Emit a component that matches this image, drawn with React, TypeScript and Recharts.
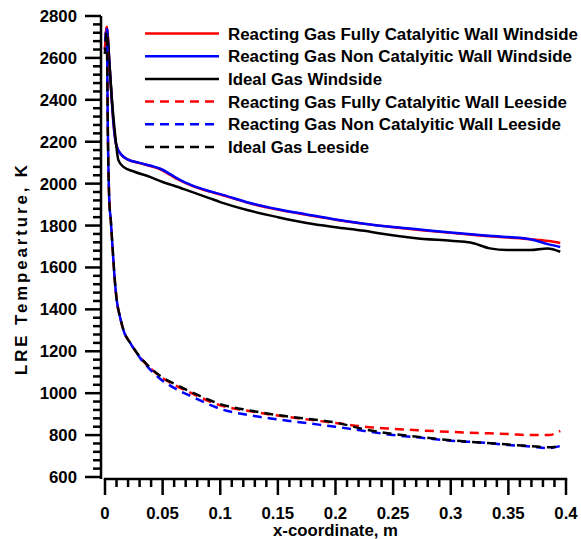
import { Legend, Line, LineChart, XAxis, YAxis } from "recharts";

const FONT = '"Liberation Sans", Arial, Helvetica, sans-serif';
const FONT_SIZE = 16.8;

// frame
const CHART_W = 581;
const CHART_H = 539;
const MARGIN = { top: 16, right: 15, bottom: 0, left: 0 };
const Y_AXIS_W = 101;
const X_AXIS_H = 60;
const X_PAD = { left: 4, right: 0 };
const Y_PAD = { top: 0, bottom: 2 };
const X_LINE_LEN = CHART_W - MARGIN.right - Y_AXIS_W - X_PAD.left - X_PAD.right;
const AXIS_STROKE = 2.5;
const MAJOR_LEN = 16;
const MINOR_LEN = 8;

// axes
const X_DOMAIN: [number, number] = [0, 0.4];
const Y_DOMAIN: [number, number] = [600, 2800];
const X_MAJOR = [0, 0.05, 0.1, 0.15, 0.2, 0.25, 0.3, 0.35, 0.4];
const X_LABELS = ["0", "0.05", "0.1", "0.15", "0.2", "0.25", "0.3", "0.35", "0.4"];
const X_TICKS = Array.from({ length: 41 }, (_, i) => i / 100);
const Y_MAJOR = [600, 800, 1000, 1200, 1400, 1600, 1800, 2000, 2200, 2400, 2600, 2800];
const Y_TICKS = Array.from({ length: 56 }, (_, i) => 600 + i * 40);

// windside, reacting gas (fully / non catalytic wall)
const X_WIND = [
  0, 0.0015, 0.004, 0.006, 0.008, 0.01, 0.0145, 0.02, 0.03, 0.04, 0.048, 0.057, 0.065,
  0.074, 0.09, 0.1, 0.125, 0.15, 0.175, 0.2, 0.225, 0.25, 0.275, 0.3, 0.325, 0.35, 0.369,
  0.385, 0.395,
];
const T_WIND_FCW = [
  2640, 2748, 2560, 2390, 2250, 2180, 2136, 2115, 2098, 2083, 2068, 2040, 2015, 1993, 1963,
  1948, 1907, 1876, 1851, 1828, 1808, 1792, 1778, 1765, 1753, 1743, 1735, 1726, 1717,
];
const T_WIND_NCW = [
  2640, 2745, 2560, 2390, 2250, 2180, 2136, 2115, 2099, 2085, 2071, 2044, 2018, 1995, 1965,
  1950, 1909, 1878, 1853, 1829, 1809, 1793, 1780, 1767, 1755, 1745, 1735, 1710, 1698,
];

// windside, ideal gas
const X_WIND_IG = [
  0, 0.0015, 0.004, 0.006, 0.0087, 0.0116, 0.016, 0.025, 0.039, 0.05, 0.06, 0.074, 0.091,
  0.1, 0.125, 0.15, 0.175, 0.2, 0.225, 0.239, 0.268, 0.3, 0.317, 0.334, 0.349, 0.369,
  0.384, 0.395,
];
const T_WIND_IG = [
  2620, 2724, 2560, 2400, 2239, 2112, 2080, 2058, 2032, 2008, 1990, 1963, 1930, 1912, 1872,
  1840, 1812, 1792, 1775, 1762, 1741, 1727, 1719, 1691, 1683, 1683, 1691, 1675,
];

// leeside
const X_LEE = [
  0, 0.0015, 0.0025, 0.0037, 0.005, 0.0067, 0.0087, 0.0102, 0.013, 0.016, 0.022, 0.03,
  0.038, 0.048, 0.06, 0.075, 0.1, 0.125, 0.15, 0.175, 0.2, 0.225, 0.25, 0.275, 0.3, 0.325,
  0.35, 0.37, 0.385, 0.395,
];
const T_LEE_FCW = [
  2640, 2748, 2240, 1921, 1826, 1683, 1525, 1444, 1365, 1301, 1239, 1174, 1126, 1080, 1040,
  1000, 942, 915, 893, 875, 858, 840, 830, 822, 815, 810, 805, 800, 800, 820,
];
const T_LEE_NCW = [
  2640, 2745, 2240, 1921, 1826, 1683, 1525, 1444, 1365, 1301, 1239, 1172, 1120, 1068, 1025,
  985, 925, 895, 875, 857, 840, 820, 800, 787, 773, 765, 753, 745, 738, 748,
];
const T_LEE_IG = [
  2620, 2724, 2230, 1921, 1826, 1683, 1525, 1444, 1365, 1301, 1239, 1176, 1128, 1082, 1045,
  1005, 948, 918, 895, 878, 860, 828, 805, 790, 775, 765, 755, 747, 742, 748,
];

const zip = (xs: number[], ts: number[]) => xs.map((x, i) => ({ x, t: ts[i] }));

type Series = {
  key: string;
  name: string;
  color: string;
  dash?: string;
  dashOffset?: number;
  data: { x: number; t: number }[];
};

const DASH = "9 6";

const SERIES: Series[] = [
  { key: "wfcw", name: "Reacting Gas Fully Catalyitic Wall Windside", color: "#ff0000", data: zip(X_WIND, T_WIND_FCW) },
  { key: "wncw", name: "Reacting Gas Non Catalyitic Wall Windside", color: "#0000ff", data: zip(X_WIND, T_WIND_NCW) },
  { key: "wig", name: "Ideal Gas Windside", color: "#000000", data: zip(X_WIND_IG, T_WIND_IG) },
  { key: "lfcw", name: "Reacting Gas Fully Catalyitic Wall Leeside", color: "#ff0000", dash: DASH, dashOffset: 0, data: zip(X_LEE, T_LEE_FCW) },
  { key: "lncw", name: "Reacting Gas Non Catalyitic Wall Leeside", color: "#0000ff", dash: DASH, dashOffset: 7, data: zip(X_LEE, T_LEE_NCW) },
  { key: "lig", name: "Ideal Gas Leeside", color: "#000000", dash: DASH, dashOffset: 3, data: zip(X_LEE, T_LEE_IG) },
];

// legend layout
const LEGEND_X = 145;
const LEGEND_LINE_W = 74;
const LEGEND_TEXT_X = 228;
const LEGEND_TOP = 33.5;
const LEGEND_ROW = 22.7;
const LEGEND_TEXT_W = [350, 344, 154, 339, 333, 141];

const half = AXIS_STROKE / 2;

// x ticks: long marks on the labelled values, short ones between;
// the first tick also lays the axis line so it starts at x = 0
function XTick(props: any) {
  const x = Number(props.x);
  const y = Number(props.y);
  const v = Number(props.payload.value);
  const idx = X_MAJOR.findIndex((m) => Math.abs(m - v) < 1e-6);
  const major = idx >= 0;
  return (
    <g>
      {idx === 0 && <rect x={x - half} y={y - half} width={X_LINE_LEN + AXIS_STROKE} height={AXIS_STROKE} fill="#000" />}
      <rect x={x - half} y={y} width={AXIS_STROKE} height={major ? MAJOR_LEN : MINOR_LEN} fill="#000" />
      {major && (
        <text x={x} y={y + 40} textAnchor="middle" fontFamily={FONT} fontWeight="bold" fontSize={FONT_SIZE} fill="#000">
          {X_LABELS[idx]}
        </text>
      )}
    </g>
  );
}

function YTick(props: any) {
  const x = Number(props.x);
  const y = Number(props.y);
  const v = Number(props.payload.value);
  const major = Y_MAJOR.includes(v);
  const len = major ? MAJOR_LEN : MINOR_LEN;
  return (
    <g>
      <rect x={x - len} y={y - half} width={len} height={AXIS_STROKE} fill="#000" />
      {major && (
        <text x={x - 24} y={y + 6} textAnchor="end" fontFamily={FONT} fontWeight="bold" fontSize={FONT_SIZE} fill="#000">
          {v}
        </text>
      )}
    </g>
  );
}

function LegendBox() {
  return (
    <svg width={CHART_W} height={170} style={{ display: "block" }}>
      {SERIES.map((s, i) => {
        const cy = LEGEND_TOP + i * LEGEND_ROW;
        return (
          <g key={s.key}>
            <line
              x1={LEGEND_X}
              x2={LEGEND_X + LEGEND_LINE_W}
              y1={cy}
              y2={cy}
              stroke={s.color}
              strokeWidth={2.5}
              strokeDasharray={s.dash}
            />
            <text
              x={LEGEND_TEXT_X}
              y={cy + 6}
              textLength={LEGEND_TEXT_W[i]}
              lengthAdjust="spacingAndGlyphs"
              fontFamily={FONT}
              fontWeight="bold"
              fontSize={FONT_SIZE}
              fill="#000"
            >
              {s.name}
            </text>
          </g>
        );
      })}
    </svg>
  );
}

export default function App() {
  return (
    <div style={{ position: "absolute", left: 0, top: 0, width: CHART_W, height: CHART_H, background: "#fff" }}>
      <LineChart width={CHART_W} height={CHART_H} margin={MARGIN}>
        <XAxis
          type="number"
          dataKey="x"
          domain={X_DOMAIN}
          ticks={X_TICKS}
          interval={0}
          tick={XTick}
          tickSize={0}
          tickMargin={0}
          tickLine={false}
          axisLine={false}
          height={X_AXIS_H}
          padding={X_PAD}
          label={{
            content: (p: any) => (
              <text
                x={p.viewBox.x + p.viewBox.width / 2 + 2}
                y={535.5}
                textAnchor="middle"
                textLength={125}
                lengthAdjust="spacingAndGlyphs"
                fontFamily={FONT}
                fontWeight="bold"
                fontSize={FONT_SIZE}
                fill="#000"
              >
                x-coordinate, m
              </text>
            ),
          }}
        />
        <YAxis
          type="number"
          domain={Y_DOMAIN}
          ticks={Y_TICKS}
          interval={0}
          tick={YTick}
          tickSize={0}
          tickMargin={0}
          tickLine={false}
          axisLine={{ stroke: "#000", strokeWidth: AXIS_STROKE }}
          width={Y_AXIS_W}
          padding={Y_PAD}
          label={{
            content: () => (
              <text
                x={0}
                y={0}
                transform="translate(27 270) rotate(-90)"
                textAnchor="middle"
                textLength={210}
                lengthAdjust="spacing"
                fontFamily={FONT}
                fontWeight="bold"
                fontSize={FONT_SIZE}
                fill="#000"
              >
                LRE Tempearture, K
              </text>
            ),
          }}
        />
        <Legend
          layout="vertical"
          align="center"
          verticalAlign="middle"
          wrapperStyle={{ top: 0, left: 0, width: CHART_W, height: 170, pointerEvents: "none" }}
          content={LegendBox}
        />
        {SERIES.map((s) => (
          <Line
            key={s.key}
            data={s.data}
            dataKey="t"
            name={s.name}
            type="monotone"
            stroke={s.color}
            strokeWidth={2.5}
            strokeDasharray={s.dash}
            strokeDashoffset={s.dashOffset}
            dot={false}
            activeDot={false}
            isAnimationActive={false}
          />
        ))}
      </LineChart>
    </div>
  );
}
